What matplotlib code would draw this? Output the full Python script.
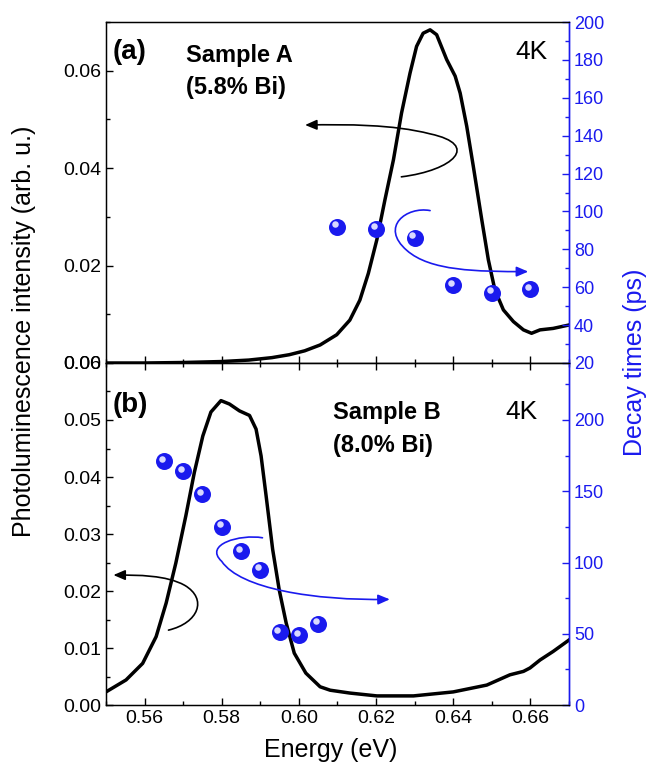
import matplotlib
matplotlib.use('Agg')
import matplotlib.pyplot as plt
from matplotlib.path import Path
from matplotlib.patches import FancyArrowPatch
from matplotlib.transforms import offset_copy
from matplotlib.ticker import MultipleLocator

plt.rcParams['font.family'] = ['Liberation Sans', 'DejaVu Sans']

# PL spectra (energy in eV, intensity arb. u.)
top_E = [0.550, 0.560, 0.570, 0.580, 0.587, 0.593, 0.5975, 0.6015, 0.6055, 0.6098, 0.6132, 0.6158,
         0.6180, 0.6202, 0.6223, 0.6245, 0.6266, 0.6288, 0.6305, 0.6322, 0.6340, 0.6357,
         0.6383, 0.6405, 0.6418, 0.6435, 0.6452, 0.6474, 0.6491, 0.6508, 0.6530, 0.6556,
         0.6582, 0.6603, 0.6625, 0.6659, 0.6700]
top_I = [0.0000, 0.0000, 0.0001, 0.0003, 0.0006, 0.0011, 0.0017, 0.0025, 0.0037, 0.0058, 0.0088, 0.0129,
         0.0184, 0.0253, 0.0335, 0.0417, 0.0513, 0.0595, 0.0650, 0.0677, 0.0684, 0.0674,
         0.0623, 0.0589, 0.0554, 0.0486, 0.0404, 0.0294, 0.0212, 0.0150, 0.0109, 0.0085,
         0.0068, 0.0061, 0.0068, 0.0071, 0.0078]

bot_E = [0.550, 0.5552, 0.5595, 0.5630, 0.5656, 0.5681, 0.5707, 0.5729, 0.5751, 0.5772,
         0.5798, 0.5820, 0.5846, 0.5872, 0.5889, 0.5902, 0.5915, 0.5932, 0.5949, 0.5967,
         0.5988, 0.6018, 0.6055, 0.6081, 0.6132, 0.6202, 0.6297, 0.6400, 0.6487, 0.6547,
         0.6582, 0.6599, 0.6625, 0.6659, 0.6700]
bot_I = [0.0023, 0.0044, 0.0073, 0.0120, 0.0179, 0.0249, 0.0332, 0.0408, 0.0472, 0.0514,
         0.0534, 0.0528, 0.0516, 0.0508, 0.0484, 0.0437, 0.0367, 0.0273, 0.0202, 0.0144,
         0.0091, 0.0056, 0.0032, 0.0026, 0.0021, 0.0016, 0.0016, 0.0023, 0.0035, 0.0053,
         0.0059, 0.0065, 0.0079, 0.0094, 0.0114]

# decay times (ps)
a_E = [0.61, 0.62, 0.63, 0.64, 0.65, 0.66]
a_tau = [92, 91, 86, 61, 57, 59]
b_E = [0.565, 0.570, 0.575, 0.580, 0.585, 0.590, 0.595, 0.600, 0.605]
b_tau = [171, 164, 148, 125, 108, 95, 51, 49, 57]

BLUE = '#1a1aee'

fig = plt.figure(figsize=(6.51, 7.65), dpi=100)
ax1 = fig.add_axes([0.1628, 0.5255, 0.7112, 0.4457])
ax2 = fig.add_axes([0.1628, 0.0784, 0.7112, 0.4471])


def balls(tw, x, y):
    tw.scatter(x, y, s=150, color=BLUE, zorder=5, linewidths=0)
    tr = offset_copy(tw.transData, fig=fig, x=-1.6, y=1.8, units='points')
    tw.scatter(x, y, s=22, color='#d8d8ff', zorder=6, linewidths=0, transform=tr)


def curved_arrow(ax, verts, color, lw=1.2):
    codes = [Path.MOVETO, Path.CURVE4, Path.CURVE4, Path.CURVE4,
             Path.CURVE4, Path.CURVE4, Path.CURVE4]
    p = FancyArrowPatch(path=Path(verts, codes), arrowstyle='-|>,head_length=7,head_width=3',
                        color=color, lw=lw, transform=ax.transAxes, zorder=4)
    ax.add_patch(p)


def style(ax, tw):
    ax.set_xlim(0.55, 0.67)
    ax.xaxis.set_major_locator(MultipleLocator(0.02))
    ax.xaxis.set_minor_locator(MultipleLocator(0.01))
    ax.tick_params(which='both', direction='in', labelsize=14, width=1)
    ax.tick_params(which='major', length=5)
    ax.tick_params(which='minor', length=3)
    ax.tick_params(axis='y', right=False)
    ax.spines['right'].set_color(BLUE)
    tw.spines['right'].set_color(BLUE)
    tw.tick_params(which='both', direction='in', colors=BLUE, labelsize=13, width=1)
    tw.tick_params(which='major', length=5)
    tw.tick_params(which='minor', length=3)
    for sp in ['left', 'right', 'top', 'bottom']:
        ax.spines[sp].set_linewidth(1.0)
    tw.spines['right'].set_linewidth(1.0)


# ---- panel (a)
ax1.plot(top_E, top_I, color='black', lw=2.5, zorder=3, solid_joinstyle='round')
ax1.set_ylim(0, 0.07)
ax1.yaxis.set_minor_locator(MultipleLocator(0.01))
ax1.set_yticks([0.0, 0.02, 0.04, 0.06])
ax1.set_yticklabels(['0.00', '0.02', '0.04', '0.06'])
ax1.tick_params(axis='x', labelbottom=False)
tw1 = ax1.twinx()
tw1.set_ylim(20, 200)
tw1.yaxis.set_major_locator(MultipleLocator(20))
tw1.yaxis.set_minor_locator(MultipleLocator(10))
style(ax1, tw1)
balls(tw1, a_E, a_tau)

ax1.text(0.015, 0.912, '(a)', transform=ax1.transAxes, fontsize=20, fontweight='bold', va='center')
ax1.text(0.173, 0.903, 'Sample A', transform=ax1.transAxes, fontsize=17, fontweight='bold', va='center')
ax1.text(0.173, 0.809, '(5.8% Bi)', transform=ax1.transAxes, fontsize=17, fontweight='bold', va='center')
ax1.text(0.953, 0.912, '4K', transform=ax1.transAxes, fontsize=19, ha='right', va='center')

curved_arrow(ax1, [(0.638, 0.546), (0.75, 0.565), (0.81, 0.64), (0.70, 0.672),
                   (0.62, 0.70), (0.52, 0.70), (0.43, 0.698)], 'black')
curved_arrow(ax1, [(0.700, 0.447), (0.65, 0.46), (0.59, 0.40), (0.65, 0.33),
                   (0.70, 0.27), (0.80, 0.268), (0.912, 0.268)], BLUE)

# ---- panel (b)
ax2.plot(bot_E, bot_I, color='black', lw=2.5, zorder=3, solid_joinstyle='round')
ax2.set_ylim(0, 0.06)
ax2.yaxis.set_major_locator(MultipleLocator(0.01))
ax2.yaxis.set_minor_locator(MultipleLocator(0.005))
ax2.yaxis.set_major_formatter(plt.FormatStrFormatter('%.2f'))
tw2 = ax2.twinx()
tw2.set_ylim(0, 240)
tw2.set_yticks([0, 50, 100, 150, 200])
tw2.yaxis.set_minor_locator(MultipleLocator(25))
style(ax2, tw2)
ax2.tick_params(axis='x', top=True, which='both')
ax2.xaxis.set_major_formatter(plt.FormatStrFormatter('%.2f'))
balls(tw2, b_E, b_tau)

ax2.text(0.015, 0.877, '(b)', transform=ax2.transAxes, fontsize=20, fontweight='bold', va='center')
ax2.text(0.490, 0.854, 'Sample B', transform=ax2.transAxes, fontsize=17, fontweight='bold', va='center')
ax2.text(0.490, 0.760, '(8.0% Bi)', transform=ax2.transAxes, fontsize=17, fontweight='bold', va='center')
ax2.text(0.933, 0.857, '4K', transform=ax2.transAxes, fontsize=19, ha='right', va='center')

curved_arrow(ax2, [(0.135, 0.219), (0.20, 0.24), (0.22, 0.31), (0.17, 0.35),
                   (0.13, 0.38), (0.07, 0.38), (0.016, 0.380)], 'black')
curved_arrow(ax2, [(0.338, 0.489), (0.29, 0.50), (0.21, 0.47), (0.25, 0.42),
                   (0.29, 0.34), (0.45, 0.305), (0.613, 0.309)], BLUE)

fig.text(0.037, 0.567, 'Photoluminescence intensity (arb. u.)', rotation=90,
         fontsize=18, ha='center', va='center')
fig.text(0.975, 0.527, 'Decay times (ps)', rotation=90, color=BLUE,
         fontsize=18, ha='center', va='center')
fig.text(0.508, 0.02, 'Energy (eV)', fontsize=18, ha='center', va='center')

fig.savefig('out.png', dpi=100)
